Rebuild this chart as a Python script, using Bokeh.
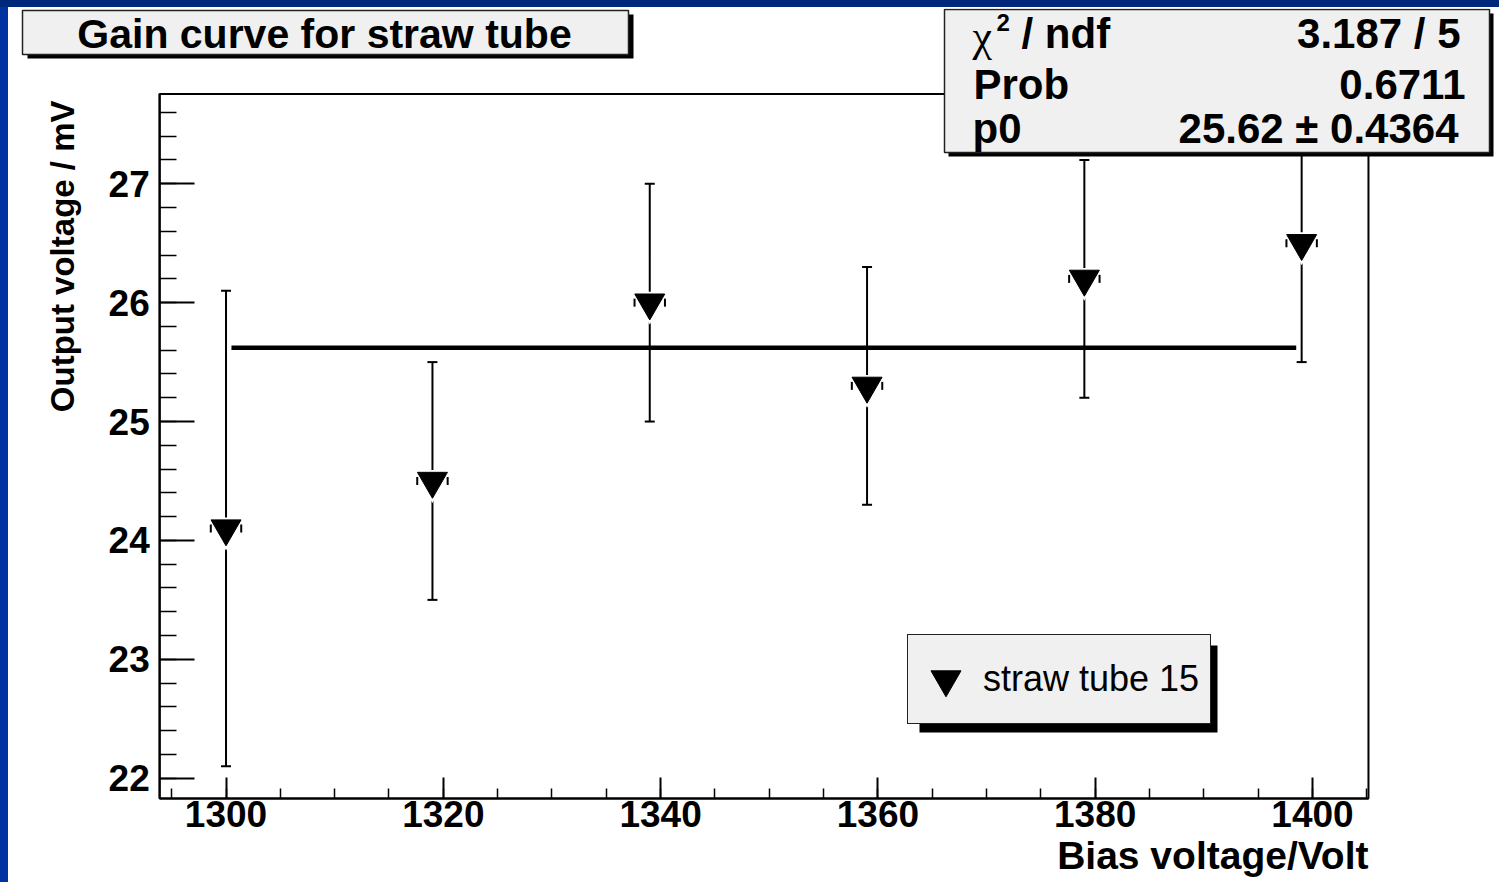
import math
from bokeh.plotting import figure
from bokeh.models import (Label, BoxAnnotation, SingleIntervalTicker, Range1d,
                          Legend, LegendItem)
from bokeh.embed import file_html
from bokeh.resources import INLINE

# ---- data ----
bias_volt = [1300, 1319, 1339, 1359, 1379, 1399]
output_mv = [24.1, 24.5, 26.0, 25.3, 26.2, 26.5]
output_err = [2.0, 1.0, 1.0, 1.0, 1.0, 1.0]
fit_p0 = 25.62
fit_p0_err = 0.4364
fit_range = [1300.5, 1398.5]
chi2_val = 3.187
ndf_val = 5
prob_val = 0.6711
series_name = "straw tube 15"
title_text = "Gain curve for straw tube"
x_title = "Bias voltage/Volt"
y_title = "Output voltage / mV"
x_limits = (1293.9, 1405.15)     # axis extent (frame box)
y_limits = (21.83, 27.755)

# visible canvas range (the frame fills the whole canvas; axes are pinned)
view_x = (1279.98, 1417.21)
view_y = (21.123, 28.474)

FONT = "Liberation Sans"
BOXFILL = "#f0f0f0"

p = figure(width=1491, height=874, output_backend="svg", toolbar_location=None,
           x_range=Range1d(*view_x), y_range=Range1d(*view_y),
           min_border=0, min_border_left=0, min_border_right=0,
           min_border_top=0, min_border_bottom=0)
p.title.visible = False
p.grid.visible = False
p.outline_line_color = None
p.background_fill_color = "white"
p.border_fill_color = "white"

for ax in (p.xaxis[0], p.yaxis[0]):
    ax.axis_line_width = 2
    ax.axis_line_color = "black"
    ax.major_tick_out = 0
    ax.minor_tick_out = 0
    ax.major_tick_line_width = 2
    ax.minor_tick_line_width = 1.5
    ax.major_tick_line_color = "black"
    ax.minor_tick_line_color = "black"
    ax.major_label_text_font = FONT
    ax.major_label_text_font_style = "bold"
    ax.major_label_text_font_size = "37px"
    ax.major_label_text_color = "black"

p.xaxis.ticker = SingleIntervalTicker(interval=20, num_minor_ticks=4)
p.yaxis.ticker = SingleIntervalTicker(interval=1, num_minor_ticks=5)
p.xaxis.bounds = x_limits
p.yaxis.bounds = y_limits
p.xaxis.fixed_location = y_limits[0]
p.yaxis.fixed_location = x_limits[0]
p.xaxis.major_tick_in = 21
p.xaxis.minor_tick_in = 10
p.yaxis.major_tick_in = 35
p.yaxis.minor_tick_in = 17
p.xaxis.major_label_standoff = 3
p.yaxis.major_label_standoff = 10

# ---- frame box ----
p.add_layout(BoxAnnotation(left=x_limits[0], right=x_limits[1],
                           bottom=y_limits[0], top=y_limits[1],
                           fill_alpha=0, line_color="black", line_alpha=1,
                           line_width=2, level="underlay"))

# ---- error bars ----
err_lo = [v - e for v, e in zip(output_mv, output_err)]
err_hi = [v + e for v, e in zip(output_mv, output_err)]
p.segment(x0=bias_volt, y0=err_lo, x1=bias_volt, y1=err_hi,
          line_color="black", line_width=2)
p.scatter(x=bias_volt + bias_volt, y=err_lo + err_hi, marker="dash",
          size=10, line_color="black", line_width=2)

# ---- fit line ----
p.line(x=fit_range, y=[fit_p0, fit_p0], line_color="black", line_width=4.5)

# ---- markers: white halo, side ticks, black triangle ----
p.scatter(x=bias_volt, y=output_mv, marker="inverted_triangle", size=38,
          fill_color="white", line_color=None)
tick_dx = 1.4
p.scatter(x=[b - tick_dx for b in bias_volt] + [b + tick_dx for b in bias_volt],
          y=output_mv + output_mv, marker="dash", angle=math.pi / 2,
          size=8, line_color="black", line_width=2)
tri = p.scatter(x=bias_volt, y=output_mv, marker="inverted_triangle", size=30,
                fill_color="black", line_color="black", line_width=1)


def cbox(l, t, r, b, fill, line=None, lw=0):
    return BoxAnnotation(left=l, right=r, top=t, bottom=b,
                         left_units="canvas", right_units="canvas",
                         top_units="canvas", bottom_units="canvas",
                         fill_color=fill, fill_alpha=1,
                         line_color=line if line else fill,
                         line_alpha=1 if line else 0, line_width=lw,
                         level="overlay")


def clabel(x, y, text, size, align="left", baseline="middle", style="bold",
           font=FONT, angle=0):
    return Label(x=x, y=y, x_units="canvas", y_units="canvas", text=text,
                 text_font=font, text_font_size=f"{size}px",
                 text_font_style=style, text_color="black",
                 text_align=align, text_baseline=baseline, angle=angle,
                 level="overlay")


# ---- title box ----
p.add_layout(cbox(19, 6, 625, 50, "black"))
p.add_layout(cbox(14, 2, 620, 46, BOXFILL, "#222222", 1.5))
p.add_layout(clabel(316, 25, title_text, 41, align="center"))

# ---- stats box ----
p.add_layout(cbox(940, 5, 1485, 148, "black"))
p.add_layout(cbox(936, 1, 1481, 144, BOXFILL, "#222222", 1.5))
p.add_layout(clabel(964, 28, "\u03c7", 44, style="normal", font="Liberation Serif"))
p.add_layout(clabel(988, 14, "2", 24))
p.add_layout(clabel(1013, 25, "/ ndf", 42))
p.add_layout(clabel(1452, 25, f"{chi2_val} / {ndf_val}", 42, align="right"))
p.add_layout(clabel(965, 76, "Prob", 42))
p.add_layout(clabel(1457, 76, f"{prob_val}", 42, align="right"))
p.add_layout(clabel(964, 120, "p0", 42))
p.add_layout(clabel(1450, 120, f"{fit_p0} \u00b1 {fit_p0_err}", 42, align="right"))

# ---- axis titles ----
p.add_layout(clabel(1360, 847, x_title, 39, align="right"))
p.add_layout(clabel(54, 92, y_title, 33, align="right", angle=math.pi / 2))

# ---- legend with shadow ----
p.add_layout(cbox(911, 637, 1209, 724, "black"))
legend = Legend(items=[LegendItem(label=series_name, renderers=[tri])],
                location=(899, 158), padding=0, margin=0, spacing=0,
                glyph_width=75, glyph_height=88, label_height=88,
                label_width=227, label_standoff=0,
                label_text_font=FONT, label_text_font_size="36px",
                label_text_baseline="middle", label_text_color="black",
                background_fill_color=BOXFILL, background_fill_alpha=1,
                border_line_color="#222222", border_line_width=1.5,
                border_line_alpha=1, level="overlay")
p.add_layout(legend)

html = file_html(p, INLINE, title=title_text)
css = ("<style>html,body{margin:0;overflow:hidden;}"
       "body{padding:8px 0 0 8px;background:"
       "linear-gradient(to bottom,#00287a 0,#00287a 7px,rgba(0,0,0,0) 7px),"
       "linear-gradient(to right,#0033a0 0,#0033a0 8px,#ffffff 8px);}</style>")
html = html.replace("</head>", css + "</head>", 1)
open("out.html", "w").write(html)
